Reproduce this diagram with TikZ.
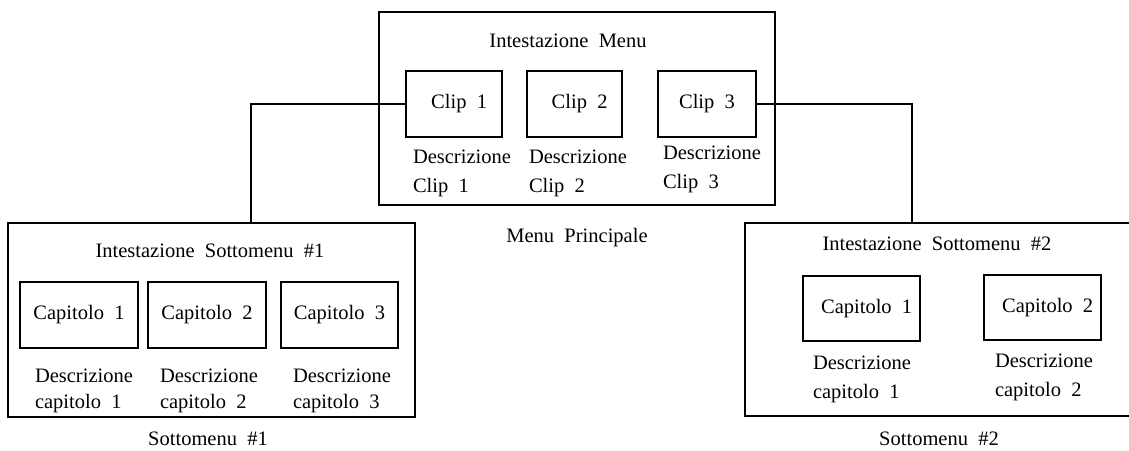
\documentclass[tikz,border=0pt]{standalone}
\usepackage{fontspec}
\setmainfont{Liberation Serif}[WordSpace=2]
\begin{document}
\begin{tikzpicture}[x=1pt,y=-1pt,
  every node/.style={font=\fontsize{20.5}{29}\selectfont, inner sep=0pt, outer sep=0pt},
  frame/.style={draw, rectangle, line width=2.9pt},
  conn/.style={draw, line width=2.7pt},
  lbl/.style={anchor=base},
  desc/.style={anchor=base west}]
\useasboundingbox (0,0) rectangle (1129,450);

% main menu
\node[frame, minimum width=396pt, minimum height=193pt] (menu) at (577,108.5) {};
\node[lbl] (menuhead) at (568,47) {Intestazione Menu};
\node[frame, minimum width=96pt, minimum height=66pt] (clip1) at (454,104) {\ Clip 1};
\node[frame, minimum width=95pt, minimum height=66pt] (clip2) at (574.5,104) {\ Clip 2};
\node[frame, minimum width=98pt, minimum height=66pt] (clip3) at (707,104) {Clip 3};
\node[desc] (d1) at (413,163) {\begin{tabular}[t]{@{}l@{}}Descrizione\\Clip 1\end{tabular}};
\node[desc] (d2) at (529,163) {\begin{tabular}[t]{@{}l@{}}Descrizione\\Clip 2\end{tabular}};
\node[desc] (d3) at (663,159) {\begin{tabular}[t]{@{}l@{}}Descrizione\\Clip 3\end{tabular}};
\node[lbl] (menucap) at (577,242) {Menu Principale};

% submenu 1
\node[frame, minimum width=407pt, minimum height=194pt] (sub1) at (211.5,320) {};
\node[lbl] (sub1head) at (210,257) {Intestazione Sottomenu \#1};
\node[frame, minimum width=118pt, minimum height=66pt] (c11) at (79,315) {Capitolo 1};
\node[frame, minimum width=118pt, minimum height=66pt] (c12) at (207,315) {Capitolo 2};
\node[frame, minimum width=117pt, minimum height=66pt] (c13) at (339.5,315) {Capitolo 3};
\node[desc] (e11) at (35,382) {\renewcommand\arraystretch{0.93}\begin{tabular}[t]{@{}l@{}}Descrizione\\capitolo 1\end{tabular}};
\node[desc] (e12) at (160,382) {\renewcommand\arraystretch{0.93}\begin{tabular}[t]{@{}l@{}}Descrizione\\capitolo 2\end{tabular}};
\node[desc] (e13) at (293,382) {\renewcommand\arraystretch{0.93}\begin{tabular}[t]{@{}l@{}}Descrizione\\capitolo 3\end{tabular}};
\node[lbl] (sub1cap) at (208,445) {Sottomenu \#1};

% submenu 2
\node[frame, minimum width=395pt, minimum height=193pt] (sub2) at (942.5,319.5) {};
\node[lbl] (sub2head) at (937,250) {Intestazione Sottomenu \#2};
\node[frame, minimum width=117pt, minimum height=65pt] (c21) at (861.5,308.5) {\ Capitolo 1};
\node[frame, minimum width=117pt, minimum height=65pt] (c22) at (1042.5,307.5) {\ Capitolo 2};
\node[desc] (e21) at (813,369) {\begin{tabular}[t]{@{}l@{}}Descrizione\\capitolo 1\end{tabular}};
\node[desc] (e22) at (995,367) {\begin{tabular}[t]{@{}l@{}}Descrizione\\capitolo 2\end{tabular}};
\node[lbl] (sub2cap) at (939,445) {Sottomenu \#2};

% connectors
\coordinate (j1) at (251,0);
\coordinate (j2) at (912,0);
\draw[conn] (clip1.west) -| (sub1.north -| j1);
\draw[conn] (clip3.east) -| (sub2.north -| j2);
\end{tikzpicture}
\end{document}
